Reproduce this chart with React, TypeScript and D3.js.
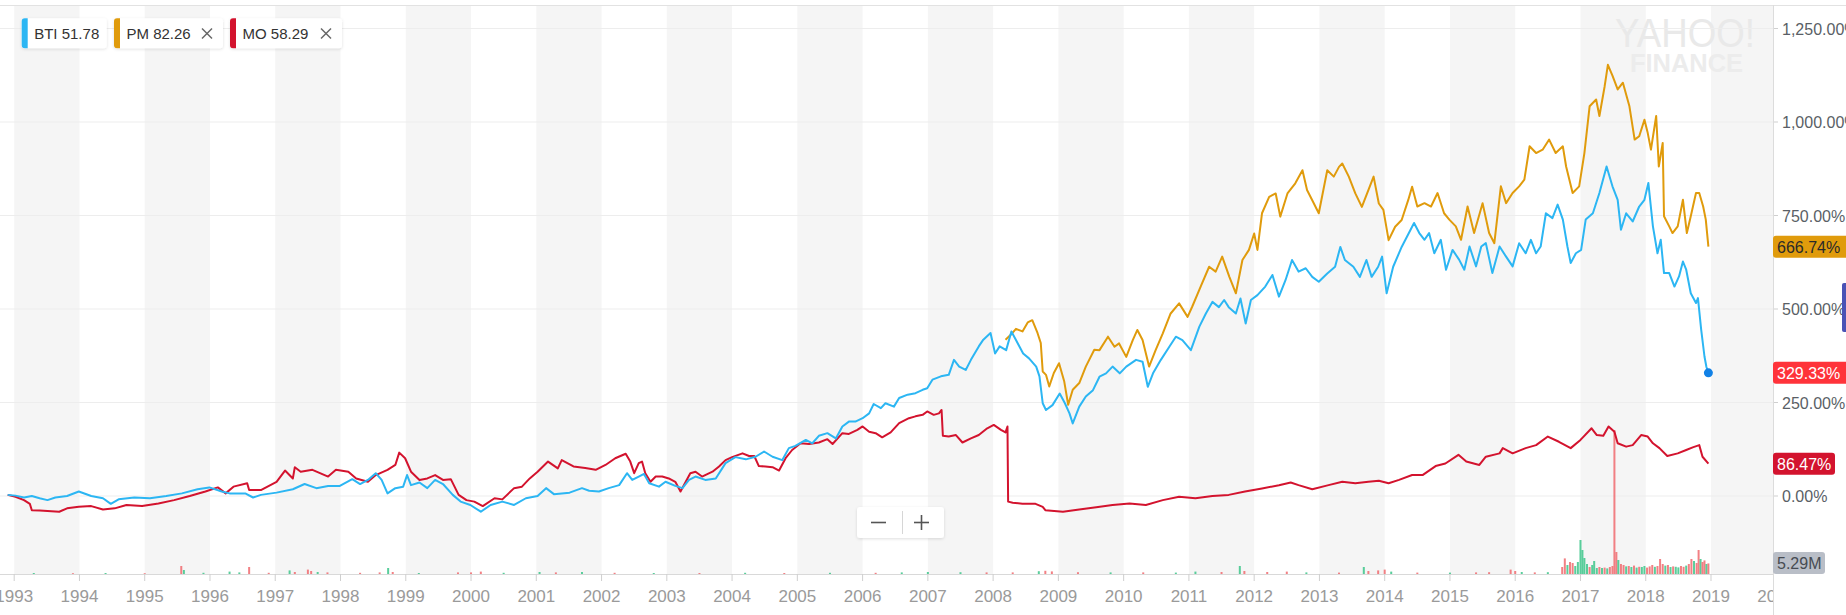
import React from "react";
import * as d3 from "d3";

// ---------- data (decimal year, % change) ----------
const yearTicks: number[] = d3.range(1993, 2021);
const pctTicks: number[] = [0, 250, 500, 750, 1000, 1250];

const btiSeries: [number, number][] = [
  [1992.9, 3], [1993.02, 1], [1993.15, -4], [1993.27, 0], [1993.39, -6], [1993.51, -11], [1993.63, -4], [1993.81, 0],
  [1993.99, 12], [1994.18, 0], [1994.36, -6], [1994.48, -21], [1994.6, -9], [1994.84, -4], [1995.08, -6], [1995.33, 0],
  [1995.57, 7], [1995.81, 18], [1995.99, 23], [1996.18, 12], [1996.3, 7], [1996.54, 7], [1996.66, -4], [1996.78, 3],
  [1997.02, 9], [1997.27, 18], [1997.45, 32], [1997.63, 21], [1997.81, 27], [1997.99, 27], [1998.18, 45], [1998.3, 32],
  [1998.42, 43], [1998.54, 61], [1998.63, 43], [1998.72, 7], [1998.84, 21], [1998.96, 25], [1999.02, 56], [1999.08, 29],
  [1999.21, 36], [1999.33, 21], [1999.45, 43], [1999.57, 32], [1999.72, 3], [1999.84, -15], [1999.99, -24], [2000.15, -42],
  [2000.3, -24], [2000.48, -15], [2000.66, -24], [2000.84, -6], [2001.02, 0], [2001.15, 21], [2001.27, 5], [2001.51, 9],
  [2001.7, 21], [2001.81, 14], [2001.96, 12], [2002.11, 21], [2002.27, 29], [2002.39, 61], [2002.47, 43], [2002.57, 52],
  [2002.65, 59], [2002.73, 34], [2002.88, 25], [2002.98, 38], [2003.13, 27], [2003.24, 21], [2003.34, 43], [2003.44, 52],
  [2003.59, 43], [2003.75, 47], [2003.9, 88], [2004.05, 104], [2004.21, 98], [2004.36, 105], [2004.49, 119], [2004.62, 105],
  [2004.77, 96], [2004.87, 128], [2004.97, 134], [2005.13, 150], [2005.23, 141], [2005.33, 161], [2005.46, 168], [2005.59, 154],
  [2005.69, 186], [2005.79, 199], [2005.89, 199], [2006.0, 208], [2006.1, 221], [2006.17, 246], [2006.28, 235], [2006.35, 248],
  [2006.48, 239], [2006.56, 262], [2006.69, 271], [2006.81, 275], [2006.92, 284], [2006.99, 288], [2007.07, 311], [2007.2, 320],
  [2007.32, 324], [2007.4, 364], [2007.48, 346], [2007.58, 337], [2007.66, 364], [2007.78, 400], [2007.85, 418], [2007.96, 436],
  [2008.03, 381], [2008.1, 400], [2008.2, 390], [2008.28, 440], [2008.35, 417], [2008.46, 381], [2008.55, 368], [2008.66, 346],
  [2008.71, 320], [2008.76, 248], [2008.81, 230], [2008.91, 243], [2009.02, 274], [2009.1, 248], [2009.17, 221], [2009.22, 194],
  [2009.32, 239], [2009.42, 266], [2009.53, 283], [2009.63, 319], [2009.73, 328], [2009.83, 346], [2009.94, 328], [2010.04, 346],
  [2010.19, 364], [2010.29, 359], [2010.37, 292], [2010.45, 328], [2010.57, 364], [2010.7, 399], [2010.8, 426], [2010.9, 417],
  [2011.03, 390], [2011.16, 453], [2011.26, 488], [2011.36, 519], [2011.46, 505], [2011.54, 524], [2011.61, 505], [2011.72, 488],
  [2011.79, 528], [2011.87, 461], [2011.95, 524], [2012.05, 537], [2012.17, 560], [2012.28, 591], [2012.38, 533], [2012.48, 577],
  [2012.58, 631], [2012.68, 600], [2012.79, 609], [2012.89, 586], [2012.99, 573], [2013.12, 595], [2013.24, 613], [2013.32, 666],
  [2013.39, 631], [2013.52, 613], [2013.62, 586], [2013.72, 631], [2013.8, 586], [2013.9, 613], [2013.96, 640], [2014.03, 542],
  [2014.13, 613], [2014.26, 666], [2014.42, 720], [2014.45, 730], [2014.53, 703], [2014.61, 685], [2014.68, 703], [2014.76, 649],
  [2014.86, 685], [2014.94, 605], [2015.04, 658], [2015.14, 632], [2015.22, 605], [2015.3, 667], [2015.4, 614], [2015.48, 667],
  [2015.55, 676], [2015.65, 596], [2015.76, 667], [2015.86, 640], [2015.96, 614], [2016.06, 676], [2016.16, 649], [2016.24, 685],
  [2016.32, 649], [2016.39, 667], [2016.47, 756], [2016.57, 743], [2016.65, 779], [2016.73, 739], [2016.8, 667], [2016.85, 623],
  [2016.93, 649], [2017.01, 658], [2017.08, 739], [2017.19, 756], [2017.29, 810], [2017.4, 881], [2017.49, 828], [2017.57, 792],
  [2017.62, 712], [2017.7, 756], [2017.8, 734], [2017.9, 774], [2017.98, 792], [2018.04, 837], [2018.11, 721], [2018.18, 649],
  [2018.23, 685], [2018.28, 596], [2018.36, 596], [2018.44, 560], [2018.51, 587], [2018.57, 627], [2018.62, 605], [2018.69, 542],
  [2018.77, 516], [2018.8, 529], [2018.85, 444], [2018.9, 373], [2018.93, 345], [2018.96, 329.33],
];

const pmSeries: [number, number][] = [
  [2008.19, 418], [2008.27, 431], [2008.35, 447], [2008.45, 440], [2008.53, 464], [2008.6, 470], [2008.68, 436], [2008.73, 409],
  [2008.76, 333], [2008.81, 324], [2008.86, 293], [2008.93, 329], [2009.01, 355], [2009.09, 306], [2009.15, 244], [2009.22, 284],
  [2009.32, 302], [2009.42, 346], [2009.55, 391], [2009.63, 390], [2009.76, 426], [2009.86, 399], [2009.93, 408], [2010.04, 372],
  [2010.14, 417], [2010.21, 444], [2010.29, 417], [2010.39, 346], [2010.49, 390], [2010.6, 435], [2010.72, 488], [2010.85, 515],
  [2010.98, 479], [2011.05, 506], [2011.18, 560], [2011.31, 613], [2011.41, 600], [2011.51, 640], [2011.62, 586], [2011.72, 542],
  [2011.82, 631], [2011.92, 658], [2012.0, 702], [2012.05, 658], [2012.12, 756], [2012.23, 800], [2012.33, 809], [2012.4, 747],
  [2012.51, 809], [2012.63, 836], [2012.74, 871], [2012.81, 818], [2012.89, 791], [2012.99, 756], [2013.07, 827], [2013.12, 871],
  [2013.22, 854], [2013.3, 880], [2013.35, 889], [2013.45, 854], [2013.55, 809], [2013.65, 773], [2013.75, 818], [2013.83, 854],
  [2013.91, 782], [2013.98, 765], [2014.06, 684], [2014.16, 720], [2014.26, 738], [2014.36, 791], [2014.42, 827], [2014.5, 774],
  [2014.61, 783], [2014.71, 774], [2014.81, 810], [2014.91, 756], [2014.99, 739], [2015.09, 721], [2015.17, 685], [2015.27, 774],
  [2015.37, 703], [2015.5, 783], [2015.6, 703], [2015.68, 676], [2015.78, 828], [2015.86, 783], [2015.96, 810], [2016.06, 828],
  [2016.14, 846], [2016.22, 935], [2016.32, 917], [2016.42, 926], [2016.52, 953], [2016.62, 917], [2016.73, 935], [2016.78, 881],
  [2016.88, 810], [2016.98, 828], [2017.06, 917], [2017.14, 1042], [2017.24, 1060], [2017.29, 1016], [2017.37, 1095], [2017.42, 1153],
  [2017.49, 1124], [2017.57, 1087], [2017.65, 1105], [2017.75, 1042], [2017.83, 953], [2017.9, 962], [2017.98, 1006], [2018.03, 971],
  [2018.08, 926], [2018.16, 1016], [2018.2, 881], [2018.26, 944], [2018.28, 748], [2018.36, 721], [2018.41, 703], [2018.49, 721],
  [2018.57, 792], [2018.63, 703], [2018.69, 748], [2018.77, 810], [2018.82, 810], [2018.88, 774], [2018.92, 739], [2018.96, 666.74],
];

const moSeries: [number, number][] = [
  [1992.9, 3], [1993.02, -2], [1993.15, -11], [1993.24, -21], [1993.27, -38], [1993.39, -39], [1993.69, -42], [1993.81, -33],
  [1993.99, -29], [1994.18, -27], [1994.36, -36], [1994.54, -33], [1994.72, -24], [1994.96, -27], [1995.21, -20], [1995.45, -11],
  [1995.69, 0], [1995.93, 12], [1996.12, 23], [1996.24, 7], [1996.36, 25], [1996.57, 34], [1996.6, 16], [1996.78, 16],
  [1997.02, 38], [1997.15, 68], [1997.27, 47], [1997.3, 77], [1997.39, 65], [1997.57, 70], [1997.81, 52], [1997.93, 70],
  [1998.12, 65], [1998.24, 47], [1998.42, 38], [1998.54, 56], [1998.72, 70], [1998.84, 83], [1998.9, 116], [1998.99, 101],
  [1999.08, 65], [1999.21, 43], [1999.33, 47], [1999.45, 56], [1999.57, 43], [1999.69, 45], [1999.81, 3], [1999.93, -11],
  [2000.05, -15], [2000.18, -27], [2000.36, -6], [2000.48, -9], [2000.66, 21], [2000.78, 25], [2000.9, 47], [2001.02, 65],
  [2001.18, 92], [2001.33, 74], [2001.39, 96], [2001.57, 79], [2001.75, 75], [2001.91, 70], [2002.06, 83], [2002.21, 101],
  [2002.37, 113], [2002.44, 92], [2002.5, 61], [2002.57, 88], [2002.62, 92], [2002.67, 61], [2002.75, 38], [2002.83, 52],
  [2002.93, 52], [2003.03, 47], [2003.13, 38], [2003.21, 12], [2003.29, 38], [2003.36, 61], [2003.44, 65], [2003.54, 52],
  [2003.7, 65], [2003.8, 79], [2003.9, 96], [2004.0, 104], [2004.16, 114], [2004.26, 107], [2004.34, 107], [2004.41, 80],
  [2004.51, 79], [2004.62, 77], [2004.72, 68], [2004.82, 101], [2004.92, 123], [2005.05, 141], [2005.18, 139], [2005.33, 143],
  [2005.46, 152], [2005.54, 139], [2005.69, 168], [2005.79, 166], [2005.92, 177], [2006.0, 186], [2006.1, 172], [2006.2, 168],
  [2006.3, 157], [2006.43, 170], [2006.56, 195], [2006.71, 208], [2006.81, 213], [2006.92, 217], [2006.99, 226], [2007.09, 217],
  [2007.17, 221], [2007.21, 230], [2007.23, 161], [2007.32, 159], [2007.43, 163], [2007.53, 143], [2007.66, 154], [2007.78, 163],
  [2007.91, 181], [2008.01, 190], [2008.12, 177], [2008.19, 170], [2008.22, 186], [2008.23, -15], [2008.3, -18], [2008.45, -21],
  [2008.65, -21], [2008.76, -29], [2008.8, -38], [2009.07, -42], [2009.32, -36], [2009.58, -30], [2009.83, -24], [2010.09, -20],
  [2010.34, -24], [2010.6, -11], [2010.85, -2], [2011.1, -6], [2011.36, 0], [2011.61, 3], [2011.86, 12], [2012.12, 20],
  [2012.38, 29], [2012.56, 36], [2012.68, 29], [2012.89, 18], [2013.14, 29], [2013.35, 38], [2013.55, 34], [2013.75, 38],
  [2013.91, 41], [2014.06, 34], [2014.22, 43], [2014.42, 56], [2014.58, 56], [2014.78, 80], [2014.93, 87], [2015.13, 110],
  [2015.25, 92], [2015.45, 83], [2015.55, 105], [2015.76, 114], [2015.81, 128], [2015.96, 114], [2016.16, 128], [2016.32, 136],
  [2016.5, 159], [2016.67, 145], [2016.85, 128], [2017.0, 150], [2017.17, 181], [2017.25, 163], [2017.35, 161], [2017.43, 186],
  [2017.52, 172], [2017.57, 141], [2017.7, 132], [2017.8, 136], [2017.93, 163], [2018.03, 159], [2018.11, 141], [2018.21, 128],
  [2018.33, 107], [2018.49, 114], [2018.62, 123], [2018.72, 130], [2018.82, 136], [2018.87, 105], [2018.96, 86.47],
];

// volume: [year, millions, up(1)/down(0)]
const volumeBars: [number, number, number][] = [
  [1993.3, 0.5, 1], [1993.9, 0.4, 0], [1994.4, 0.5, 1], [1995.0, 0.4, 0], [1995.56, 4, 0], [1995.6, 2, 1], [1995.9, 0.6, 1],
  [1996.3, 1.2, 1], [1996.45, 0.8, 1], [1996.6, 3.5, 0], [1996.9, 0.6, 0], [1997.22, 1.8, 1], [1997.3, 1, 0], [1997.5, 2.2, 0],
  [1997.55, 1.5, 0], [1997.65, 1, 1], [1997.8, 0.8, 0], [1998.3, 0.6, 0], [1998.6, 0.8, 0], [1998.73, 3, 1], [1998.8, 1, 0],
  [1999.2, 0.5, 1], [1999.8, 0.8, 0], [2000.0, 0.8, 0], [2000.15, 1.2, 0], [2000.5, 0.6, 1], [2001.05, 1, 1], [2001.3, 0.8, 0],
  [2001.7, 1, 1], [2002.2, 0.6, 0], [2002.8, 0.5, 1], [2003.5, 0.5, 0], [2004.2, 0.6, 1], [2004.8, 0.5, 0], [2005.5, 0.6, 1],
  [2006.2, 0.6, 0], [2006.6, 0.8, 1], [2007.0, 1, 1], [2007.5, 0.9, 1], [2007.9, 0.8, 0], [2008.3, 0.8, 0], [2008.7, 1.4, 1],
  [2008.8, 1.6, 0], [2008.9, 1.3, 0], [2009.3, 0.9, 0], [2009.8, 0.8, 1], [2010.3, 0.8, 0], [2010.8, 0.7, 1], [2011.1, 1.2, 1],
  [2011.5, 1, 0], [2011.78, 4, 1], [2011.85, 1.5, 0], [2012.2, 1, 0], [2012.5, 1.2, 0], [2012.8, 0.8, 1], [2013.3, 0.7, 0],
  [2013.68, 3.5, 1], [2013.75, 1.5, 0], [2013.9, 1.8, 0], [2014.0, 2.2, 0], [2014.1, 1.2, 1], [2014.5, 0.7, 0], [2015.0, 0.7, 1],
  [2015.4, 0.8, 0], [2015.6, 0.9, 0], [2015.93, 2.2, 0], [2016.0, 1.5, 0], [2016.1, 1, 1], [2016.3, 0.8, 0], [2016.5, 0.9, 1],
  [2016.72, 3.5, 0], [2016.76, 7.8, 0], [2016.8, 4.5, 1], [2016.84, 6, 0], [2016.88, 5.5, 0], [2016.92, 4, 1], [2016.96, 6, 1],
  [2017.0, 17, 1], [2017.03, 12, 1], [2017.06, 8, 1], [2017.1, 5, 1], [2017.14, 3.5, 0], [2017.18, 4.5, 1], [2017.21, 6.5, 1],
  [2017.25, 3, 1], [2017.29, 3.5, 0], [2017.33, 3, 1], [2017.37, 3.2, 0], [2017.41, 2.8, 1], [2017.45, 3.5, 0], [2017.49, 4, 0],
  [2017.52, 72, 0], [2017.55, 11, 0], [2017.58, 7, 1], [2017.62, 5, 0], [2017.66, 4.5, 0], [2017.7, 3.8, 1], [2017.74, 4, 0],
  [2017.78, 3.5, 1], [2017.82, 4.2, 0], [2017.86, 3.2, 1], [2017.9, 3.6, 0], [2017.94, 3.5, 1], [2017.98, 4, 1], [2018.02, 3.2, 0],
  [2018.06, 3.8, 0], [2018.1, 4.5, 0], [2018.14, 3.6, 1], [2018.18, 4, 0], [2018.22, 7.5, 0], [2018.26, 5, 0], [2018.3, 4.2, 1],
  [2018.34, 4.5, 0], [2018.38, 3.5, 1], [2018.42, 3.8, 0], [2018.46, 3.6, 1], [2018.5, 3.3, 1], [2018.54, 4, 0], [2018.58, 3.6, 0],
  [2018.62, 4.2, 1], [2018.66, 5, 0], [2018.7, 7.5, 0], [2018.74, 6.5, 1], [2018.78, 5.5, 0], [2018.81, 12, 0], [2018.84, 7.5, 1],
  [2018.87, 6, 0], [2018.9, 6.8, 0], [2018.93, 5, 1], [2018.96, 5.29, 0],
];

const legendItems = [
  { sym: "BTI", price: "51.78", color: "#2cb6f3", closable: false },
  { sym: "PM", price: "82.26", color: "#e09b0c", closable: true },
  { sym: "MO", price: "58.29", color: "#d3132e", closable: true },
];

const W = 1846;
const H = 615;
const PLOT_R = 1773;
const BASE = 574;
const FONT = "'Liberation Sans', Arial, Helvetica, sans-serif";

export default function App() {
  const x = d3.scaleLinear().domain([1993, 2019]).range([14.2, 1711]);
  const y = d3.scaleLinear().domain([0, 1250]).range([496, 28.5]);
  const yVol = d3.scaleLinear().domain([0, 10]).range([BASE, BASE - 20]);
  const line = d3
    .line<[number, number]>()
    .x((d) => x(d[0]))
    .y((d) => y(d[1]));

  const bands = yearTicks.filter((t) => t % 2 === 1);
  const endYear = btiSeries[btiSeries.length - 1][0];

  const legendX = [21.7, 114, 230];
  const legendW = [85, 109, 112];

  const priceLabels = [
    { v: 666.74, text: "666.74%", bg: "#e09b0c", fg: "#2a2a2a", w: 80 },
    { v: 329.33, text: "329.33%", bg: "#ff333a", fg: "#ffffff", w: 80 },
    { v: 86.47, text: "86.47%", bg: "#d3132e", fg: "#ffffff", w: 62 },
  ];

  return (
    <div style={{ position: "absolute", left: 0, top: 0, width: W, height: H, overflow: "hidden", background: "#fff" }}>
      <svg width={W} height={H} style={{ display: "block", fontFamily: FONT }}>
        <defs>
          <clipPath id="plotClip">
            <rect x={0} y={0} width={PLOT_R} height={H} />
          </clipPath>
          <filter id="pillShadow" x="-20%" y="-30%" width="140%" height="170%">
            <feDropShadow dx="0" dy="1" stdDeviation="1.5" floodColor="#000" floodOpacity="0.13" />
          </filter>
        </defs>

        {/* alternating year bands */}
        {bands.map((b) => (
          <rect key={b} x={x(b)} y={6} width={Math.min(x(b + 1), PLOT_R) - x(b)} height={BASE - 6} fill="#f5f5f5" />
        ))}

        {/* top line */}
        <line x1={0} x2={W} y1={5.5} y2={5.5} stroke="#e2e2e2" />

        {/* watermark */}
        <text x={1615} y={47} fontSize={41} fill="#e9e9e9" textLength={140} lengthAdjust="spacingAndGlyphs">
          YAHOO!
        </text>
        <text x={1630} y={72} fontSize={26} fontWeight="bold" fill="#ececec" textLength={113} lengthAdjust="spacingAndGlyphs">
          FINANCE
        </text>

        {/* gridlines */}
        {pctTicks.map((t) => (
          <g key={t}>
            <line x1={0} x2={PLOT_R} y1={y(t)} y2={y(t)} stroke="#ededed" />
            <line x1={PLOT_R} x2={PLOT_R + 5} y1={y(t)} y2={y(t)} stroke="#cfcfcf" />
          </g>
        ))}

        {/* volume */}
        <g clipPath="url(#plotClip)">
          {volumeBars.map((d, i) => (
            <rect
              key={i}
              x={x(d[0]) - 1}
              y={yVol(d[1])}
              width={2}
              height={BASE - yVol(d[1])}
              fill={d[2] ? "#3cc68a" : "#f06a6e"}
              opacity={0.85}
            />
          ))}
        </g>

        {/* lines */}
        <g clipPath="url(#plotClip)" fill="none" strokeWidth={2} strokeLinejoin="round">
          <path d={line(pmSeries) || ""} stroke="#e09b0c" />
          <path d={line(moSeries) || ""} stroke="#d3132e" />
          <path d={line(btiSeries) || ""} stroke="#2cb6f3" />
        </g>
        <circle cx={x(endYear)} cy={y(329.33)} r={4.5} fill="#1181e6" />

        {/* x axis */}
        <line x1={0} x2={PLOT_R} y1={BASE + 0.5} y2={BASE + 0.5} stroke="#d9d9d9" />
        <g clipPath="url(#plotClip)">
          {yearTicks.map((t) => (
            <g key={t}>
              <line x1={x(t)} x2={x(t)} y1={BASE} y2={BASE + 7} stroke="#cfcfcf" />
              <text x={x(t)} y={602} fontSize={17} fill="#9a9a9a" textAnchor="middle">
                {t}
              </text>
            </g>
          ))}
        </g>

        {/* right axis */}
        <line x1={PLOT_R + 0.5} x2={PLOT_R + 0.5} y1={5} y2={H} stroke="#dcdcdc" />
        {pctTicks.map((t) => (
          <text key={t} x={1782} y={y(t) + 6} fontSize={16} fill="#5a5f66">
            {d3.format(",.2f")(t) + "%"}
          </text>
        ))}

        {/* price labels */}
        {priceLabels.map((p) => (
          <g key={p.text}>
            <rect x={PLOT_R} y={y(p.v) - 11} width={p.w} height={22} rx={3} fill={p.bg} />
            <text x={1777} y={y(p.v) + 6} fontSize={16} fill={p.fg}>
              {p.text}
            </text>
          </g>
        ))}
        <rect x={PLOT_R} y={552} width={52} height={22} rx={3} fill="#b9bec7" />
        <text x={1777} y={569} fontSize={16} fill="#474c53">
          5.29M
        </text>
        <rect x={1842} y={283} width={8} height={49} rx={2} fill="#4a52b5" />

        {/* zoom control */}
        <g filter="url(#pillShadow)">
          <rect x={857} y={507} width={87} height={31} rx={3} fill="#fff" />
        </g>
        <line x1={902.5} x2={902.5} y1={511} y2={534} stroke="#d6d6d6" />
        <line x1={871} x2={886} y1={522.5} y2={522.5} stroke="#555" strokeWidth={1.6} />
        <line x1={914} x2={929} y1={522.5} y2={522.5} stroke="#555" strokeWidth={1.6} />
        <line x1={921.5} x2={921.5} y1={515} y2={530} stroke="#555" strokeWidth={1.6} />

        {/* legend */}
        {legendItems.map((it, i) => {
          const lx = legendX[i];
          const lw = legendW[i];
          return (
            <g key={it.sym}>
              <g filter="url(#pillShadow)">
                <rect x={lx} y={18.3} width={lw} height={30} rx={3} fill="#fff" />
              </g>
              <path
                d={`M${lx + 3},18.3 h3 v30 h-3 a3,3 0 0 1 -3,-3 v-24 a3,3 0 0 1 3,-3 z`}
                fill={it.color}
              />
              <text x={lx + 12.5} y={39} fontSize={15} fill="#333">
                {it.sym + " " + it.price}
              </text>
              {it.closable && (
                <g stroke="#666" strokeWidth={1.4}>
                  <line x1={lx + lw - 21} x2={lx + lw - 11} y1={28.5} y2={38.5} />
                  <line x1={lx + lw - 21} x2={lx + lw - 11} y1={38.5} y2={28.5} />
                </g>
              )}
            </g>
          );
        })}
      </svg>
    </div>
  );
}
